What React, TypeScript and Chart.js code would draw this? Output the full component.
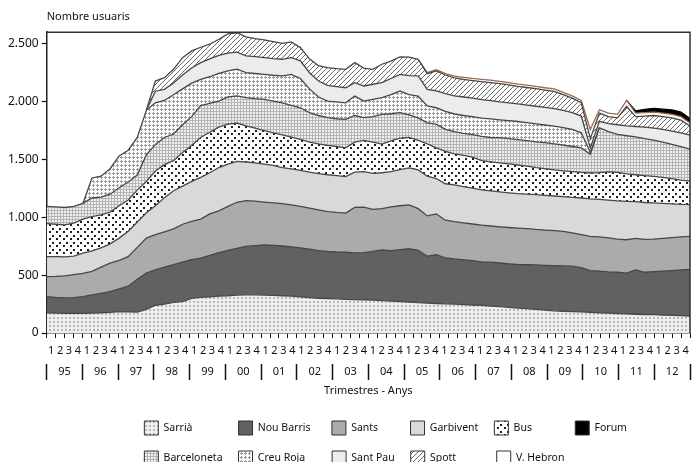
import React, { useEffect, useRef } from 'react';
import { Chart, registerables } from 'chart.js';

Chart.register(...registerables);

const FONT = '"Noto Sans", "Open Sans", sans-serif';

const YEARS = ['95', '96', '97', '98', '99', '00', '01', '02', '03', '04', '05', '06', '07', '08', '09', '10', '11', '12'];
const QUARTERS = ['1', '2', '3', '4'];
const QUARTER_LABELS = YEARS.flatMap(() => QUARTERS);
const Y_TICKS = [0, 500, 1000, 1500, 2000, 2500];

const SARRIA = [175,172,170,170,170,172,175,178,185,182, 180,205,240,250,265,272,300,308,312,318, 322,328,330,330,328,325,322,318,312,305, 300,298,295,290,288,286,284,280,276,272, 268,262,258,255,252,250,246,242,238,232, 228,222,215,210,205,198,192,188,185,182, 178,175,172,168,165,162,160,158,155,152, 150,147];
const NOU_BARRIS = [140,136,133,135,145,157,168,180,196,223, 285,312,305,320,325,340,335,340,358,377, 393,404,418,425,434,433,430,427,424,420, 412,407,405,408,404,409,421,438,436,448, 460,453,407,423,398,390,386,383,377,380, 377,376,377,380,383,387,390,392,393,383, 362,360,356,357,353,383,365,372,380,388, 395,403];
const SANTS = [173,182,191,200,200,203,227,246,247,255, 275,303,305,305,310,328,330,337,360,360, 380,398,397,385,370,367,366,363,359,355, 353,345,342,339,393,393,363,357,378,380, 380,360,347,352,325,322,320,317,317,313, 313,314,315,312,307,305,303,298,287,285, 295,295,294,287,288,273,285,282,283,284, 285,285];
const GARBIVENT = [173,170,164,160,175,178,165,166,192,220, 220,220,250,295,330,330,345,360,355,375, 365,353,333,330,328,323,312,310,310,310, 313,318,318,315,305,307,312,310,305,312, 320,335,343,305,315,318,313,310,306,303, 302,300,298,298,301,300,299,300,307,317, 325,325,326,330,332,317,318,312,302,292, 282,274];
const BUS = [284,280,277,285,295,295,285,275,280,270, 275,270,300,285,260,290,310,345,350,350, 345,332,312,300,290,282,283,275,268,260, 257,254,252,248,260,270,270,247,265,273, 262,255,280,265,280,268,270,268,252,252, 250,250,247,242,234,230,226,224,223,221, 223,231,244,246,238,233,232,230,225,219, 210,203];
const BARCELONETA = [150,150,150,145,135,162,155,155,155,155, 130,230,230,235,230,240,250,275,250,225, 235,235,244,255,269,275,277,274,274,255, 245,240,240,246,230,197,220,257,235,219, 195,195,182,205,190,192,190,195,210,210, 218,218,220,220,222,225,225,223,217,212, 162,388,348,328,329,327,320,314,305,295, 288,278];
const CREU_ROJA = [0,0,0,0,0,173,180,220,275,275, 325,385,360,320,340,310,290,228,230,240, 225,230,216,218,217,223,232,269,253,205, 160,143,146,144,168,143,150,145,165,188, 175,188,145,142,155,153,155,155,158,160, 154,155,156,156,156,153,153,150,148,130, 15,0,0,0,0,0,0,0,0,0, 0,0];
const SANT_PAU = [0,0,0,0,0,0,0,0,0,0, 0,0,100,96,100,120,130,144,155,155, 155,147,145,145,144,144,144,144,152,140, 138,135,132,130,116,130,130,130,140,144, 165,174,144,145,155,157,160,160,160,158, 156,155,152,152,152,152,152,150,145,145, 40,56,70,84,85,90,100,102,110,115, 120,120];
const SPOTT = [0,0,0,0,0,0,0,0,0,0, 0,0,88,101,119,150,148,133,126,139, 165,168,165,157,153,146,138,136,115,120, 132,154,155,159,173,155,129,159,150,150, 160,144,136,173,160,155,152,152,154,157, 157,155,152,152,152,150,148,135,125,115, 80,70,60,60,170,85,95,110,110,115, 110,80];
const V_HEBRON = [0,0,0,0,0,0,0,0,0,0, 0,0,0,0,0,0,0,0,0,0, 0,0,0,0,0,0,0,0,0,0, 0,0,0,0,0,0,0,0,0,0, 0,0,8,10,12,15,18,18,20,20, 20,20,20,20,20,20,22,20,20,20, 80,30,30,30,50,30,30,30,30,30, 30,25];
const FORUM = [0,0,0,0,0,0,0,0,0,0, 0,0,0,0,0,0,0,0,0,0, 0,0,0,0,0,0,0,0,0,0, 0,0,0,0,0,0,0,0,0,0, 0,0,0,0,0,0,0,0,0,0, 0,0,0,0,0,0,0,0,0,0, 0,0,0,0,0,20,28,32,35,38, 40,38];

const LEGEND_ROW1 = ['Sarrià', 'Nou Barris', 'Sants', 'Garbivent', 'Bus', 'Forum'];
const LEGEND_ROW2 = ['Barceloneta', 'Creu Roja', 'Sant Pau', 'Spott', 'V. Hebron'];
const COL_STEPS = [94, 94, 73, 85, 82];
const LEGEND_FONT_SIZE = 10.5;
const LEAD_TEXT = 45.5;

function fmt(v: number) {
  return String(v).replace(/\B(?=(\d{3})+(?!\d))/g, '.');
}

function tile(w: number, h: number, bg: string, draw: (g: CanvasRenderingContext2D) => void) {
  const c = document.createElement('canvas');
  c.width = w;
  c.height = h;
  const g = c.getContext('2d') as CanvasRenderingContext2D;
  g.fillStyle = bg;
  g.fillRect(0, 0, w, h);
  draw(g);
  return g.createPattern(c, 'repeat') as CanvasPattern;
}

export default function App() {
  const ref = useRef<HTMLCanvasElement>(null);

  useEffect(() => {
    if (!ref.current) return;
    const fills = {
      sarria: tile(4, 4, '#efefef', (g) => { g.fillStyle = '#b8b8b8'; g.fillRect(1, 1, 2, 2); }),
      bus: tile(7, 7, '#ffffff', (g) => { g.fillStyle = '#1e1e1e'; g.fillRect(0, 0, 2, 2); g.fillRect(3, 4, 2, 2); }),
      barceloneta: tile(3, 3, '#f0f0f0', (g) => { g.fillStyle = '#b4b4b4'; g.fillRect(0, 0, 3, 1); g.fillRect(0, 0, 1, 3); }),
      creuRoja: tile(4, 4, '#fbfbfb', (g) => { g.fillStyle = '#9c9c9c'; g.fillRect(1, 0, 1, 3); g.fillRect(0, 1, 3, 1); }),
      spott: tile(5, 5, '#ffffff', (g) => {
        g.strokeStyle = '#6a6a6a'; g.lineWidth = 1; g.beginPath();
        g.moveTo(0, 5); g.lineTo(5, 0); g.moveTo(-1, 1); g.lineTo(1, -1); g.moveTo(4, 6); g.lineTo(6, 4); g.stroke();
      }),
    };

    const LINE = '#474747';
    const layers = [
      { label: 'Sarrià', data: SARRIA, fill: fills.sarria, border: LINE },
      { label: 'Nou Barris', data: NOU_BARRIS, fill: '#616161', border: LINE },
      { label: 'Sants', data: SANTS, fill: '#ababab', border: LINE },
      { label: 'Garbivent', data: GARBIVENT, fill: '#d8d9da', border: LINE },
      { label: 'Bus', data: BUS, fill: fills.bus, border: LINE },
      { label: 'Barceloneta', data: BARCELONETA, fill: fills.barceloneta, border: LINE },
      { label: 'Creu Roja', data: CREU_ROJA, fill: fills.creuRoja, border: LINE },
      { label: 'Sant Pau', data: SANT_PAU, fill: '#ebecec', border: LINE },
      { label: 'Spott', data: SPOTT, fill: fills.spott, border: LINE },
      { label: 'V. Hebron', data: V_HEBRON, fill: '#ffffff', border: '#9a6a4e' },
      { label: 'Forum', data: FORUM, fill: '#000000', border: '#000000' },
    ];

    const framePlugin = {
      id: 'frame',
      afterDatasetsDraw(chart: any) {
        const { ctx, chartArea } = chart;
        ctx.save();
        ctx.strokeStyle = '#333';
        ctx.lineWidth = 1.5;
        ctx.beginPath();
        ctx.moveTo(chartArea.left, chartArea.top);
        ctx.lineTo(chartArea.right, chartArea.top);
        ctx.lineTo(chartArea.right, chartArea.bottom);
        ctx.stroke();
        ctx.restore();
      },
    };

    const chart = new Chart(ref.current, {
      type: 'line',
      data: {
        datasets: layers.map((L, k) => ({
          label: L.label,
          data: L.data.map((v, i) => ({ x: i, y: v })),
          backgroundColor: L.fill as any,
          borderColor: L.border,
          borderWidth: 1.3,
          fill: k === 0 ? 'origin' : '-1',
          pointRadius: 0,
          tension: 0,
          xAxisID: 'x',
          yAxisID: 'y',
          segment: {
            borderColor: (c: any) =>
              L.data[c.p0DataIndex] === 0 && L.data[c.p1DataIndex] === 0 ? 'rgba(0,0,0,0)' : L.border,
          },
        })),
      },
      options: {
        responsive: false,
        animation: false,
        devicePixelRatio: 1,
        layout: { padding: { left: 5, right: 2, top: 0, bottom: 0 } },
        plugins: {
          tooltip: { enabled: false },
          title: {
            display: true,
            text: 'Nombre usuaris',
            align: 'start',
            fullSize: false,
            color: '#111',
            font: { family: FONT, size: 11, weight: 'normal' },
            padding: { top: 10, bottom: 9 },
          },
          legend: {
            display: true,
            position: 'bottom',
            align: 'start',
            fullSize: false,
            maxHeight: 57,
            labels: {
              boxWidth: 14,
              boxHeight: 14,
              padding: 16,
              color: '#111',
              font: { family: FONT, size: LEGEND_FONT_SIZE },
              generateLabels: (ch: any) => {
                const ds = ch.data.datasets;
                const ctx = ch.ctx as CanvasRenderingContext2D;
                ctx.save();
                ctx.font = `${LEGEND_FONT_SIZE}px ${FONT}`;
                const tw = (s: string) => ctx.measureText(s).width;
                const NB = '\u00A0';
                const half = LEGEND_FONT_SIZE / 2;
                const padTo = (s: string, target: number) => {
                  let t = s;
                  let guard = 0;
                  while (tw(t) < target - 1.3 && guard++ < 300) t += NB;
                  return t;
                };
                const targets = COL_STEPS.map((step, c) => {
                  const a = LEGEND_ROW1[c];
                  const b = LEGEND_ROW2[c];
                  const need = Math.max(tw(a), c < 4 && b ? tw(b) : 0);
                  return Math.max(step - 14 - half - 16, need);
                });
                const item = (name: string, text: string) => {
                  const idx = ds.findIndex((d: any) => d.label === name);
                  return {
                    text,
                    fillStyle: ds[idx].backgroundColor,
                    strokeStyle: '#333',
                    lineWidth: 1,
                    hidden: false,
                    fontColor: '#111',
                    datasetIndex: idx,
                  };
                };
                const spacer = () => ({
                  text: padTo('', LEAD_TEXT),
                  fillStyle: 'rgba(0,0,0,0)',
                  strokeStyle: 'rgba(0,0,0,0)',
                  lineWidth: 0,
                  hidden: false,
                  fontColor: '#111',
                });
                const out: any[] = [spacer()];
                LEGEND_ROW1.forEach((n, c) => out.push(item(n, c < 5 ? padTo(n, targets[c]) : n)));
                out.push(spacer());
                LEGEND_ROW2.forEach((n, c) => out.push(item(n, c < 4 ? padTo(n, targets[c]) : n)));
                ctx.restore();
                return out;
              },
            },
          },
        },
        scales: {
          x: { type: 'linear', min: 0, max: 71, display: false },
          xq: {
            type: 'category',
            labels: QUARTER_LABELS,
            position: 'bottom',
            offset: true,
            weight: 1,
            grid: { offset: true, drawOnChartArea: false, drawTicks: true, tickLength: 5, tickColor: '#111', tickWidth: 1 },
            border: { display: true, color: '#222', width: 1.5 },
            ticks: {
              autoSkip: false,
              maxRotation: 0,
              minRotation: 0,
              padding: 2,
              color: '#111',
              font: { family: FONT, size: 11, lineHeight: 2 },
            },
          },
          xy: {
            type: 'category',
            labels: YEARS,
            position: 'bottom',
            offset: true,
            weight: 2,
            grid: { offset: true, drawOnChartArea: false, drawTicks: true, tickLength: 16, tickColor: '#111', tickWidth: 1.5 },
            border: { display: false },
            ticks: {
              autoSkip: false,
              maxRotation: 0,
              minRotation: 0,
              padding: -14.6,
              color: '#111',
              font: { family: FONT, size: 11 },
            },
            title: {
              display: true,
              text: 'Trimestres - Anys',
              color: '#111',
              font: { family: FONT, size: 11 },
              padding: { top: 20.4, bottom: 7.4 },
            },
          },
          y: {
            stacked: true,
            min: 0,
            max: 2600,
            afterBuildTicks: (scale: any) => {
              scale.ticks = Y_TICKS.map((v) => ({ value: v }));
            },
            ticks: {
              padding: 3,
              color: '#111',
              font: { family: FONT, size: 12 },
              callback: (v: any) => fmt(Number(v)),
            },
            grid: { drawOnChartArea: false, drawTicks: true, tickLength: 5, tickColor: '#111', tickWidth: 1.2 },
            border: { display: true, color: '#222', width: 1.5 },
          },
        },
      } as any,
      plugins: [framePlugin],
    });

    return () => chart.destroy();
  }, []);

  return (
    <div style={{ position: 'fixed', left: 0, top: 0, width: 692, height: 462, background: '#fff' }}>
      <canvas ref={ref} width={692} height={462} style={{ display: 'block', width: 692, height: 462 }} />
    </div>
  );
}
